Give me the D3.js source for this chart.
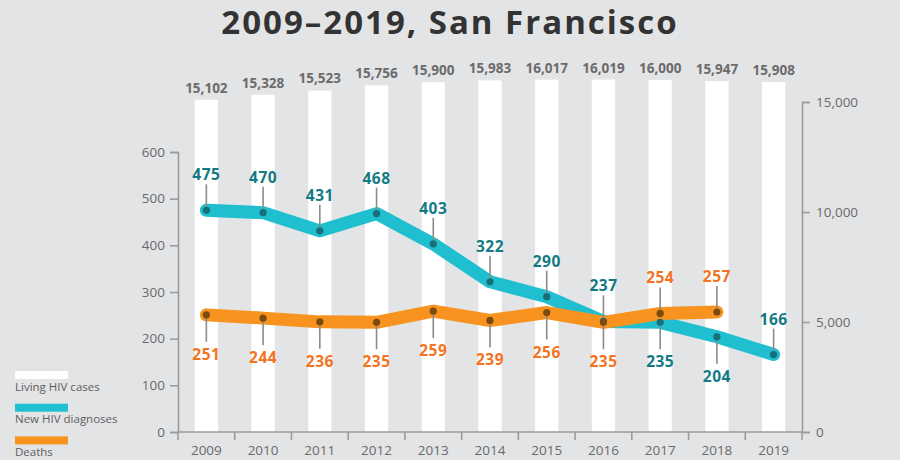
<!DOCTYPE html>
<html>
<head>
<meta charset="utf-8">
<script src="https://cdn.jsdelivr.net/npm/d3@7"></script>
<style>
  html, body { margin: 0; padding: 0; background: #e3e4e6; }
  svg { display: block; font-family: "Open Sans", "DejaVu Sans", sans-serif; }
</style>
</head>
<body>
<svg id="chart" width="900" height="460"></svg>
<script>
const years = ["2009","2010","2011","2012","2013","2014","2015","2016","2017","2018","2019"];
const livingCases = [15102, 15328, 15523, 15756, 15900, 15983, 16017, 16019, 16000, 15947, 15908];
const newDiagnoses = [475, 470, 431, 468, 403, 322, 290, 237, 235, 204, 166];
const deaths = [251, 244, 236, 235, 259, 239, 256, 235, 254, 257];
const leftTicks = [0, 100, 200, 300, 400, 500, 600];
const rightTicks = [0, 5000, 10000, 15000];
const legendLabels = ["Living HIV cases", "New HIV diagnoses", "Deaths"];
const titleText = "2009\u20132019, San Francisco";

const C = {
  bg: "#e3e4e6", bar: "#ffffff", teal: "#1fbfcf", orange: "#f7931e",
  tealText: "#137a84", orangeText: "#f47321", tealDot: "#16707a", orangeDot: "#7c4a0c",
  axis: "#9b9b9b", axisText: "#6a6a6a", leader: "#8c8c8c", title: "#333333", barText: "#6b6b6b"
};

const svg = d3.select("#chart");
svg.append("rect").attr("width", 900).attr("height", 460).attr("fill", C.bg);

const x = d3.scaleBand().domain(years).range([178, 802]).paddingInner(0.59).paddingOuter(0.295);
const xBand = d3.scaleBand().domain(years).range([178, 802]);
const yL = d3.scaleLinear().domain([0, 600]).range([432, 152]);
const yR = d3.scaleLinear().domain([0, 15000]).range([432, 102]);

// title
svg.append("text").attr("x", 450).attr("y", 34).attr("text-anchor", "middle")
  .attr("font-size", 33).attr("font-weight", 700).attr("fill", C.title)
  .attr("letter-spacing", 2)
  .text(titleText);

// bars
svg.append("g").selectAll("rect").data(years).join("rect")
  .attr("x", d => x(d)).attr("width", x.bandwidth())
  .attr("y", (d, i) => yR(livingCases[i]))
  .attr("height", (d, i) => yR(0) - yR(livingCases[i]))
  .attr("fill", C.bar);

svg.append("g").selectAll("text").data(years).join("text")
  .attr("x", d => x(d) + x.bandwidth() / 2)
  .attr("y", (d, i) => yR(livingCases[i]) - 7)
  .attr("text-anchor", "middle").attr("font-size", 13.5).attr("font-weight", 700)
  .attr("fill", C.barText)
  .text((d, i) => d3.format(",")(livingCases[i]));

// axes
const axisStyle = g => {
  g.selectAll("path, line").attr("stroke", C.axis).attr("stroke-width", 1.6);
  g.selectAll("text").attr("fill", C.axisText).attr("font-size", 13.5)
    .attr("font-family", "'Open Sans', sans-serif");
};
svg.append("g").attr("transform", "translate(178,0)")
  .call(d3.axisLeft(yL).tickValues(leftTicks).tickSizeOuter(0).tickSize(8).tickPadding(5))
  .call(axisStyle);
svg.append("g").attr("transform", "translate(802,0)")
  .call(d3.axisRight(yR).tickValues(rightTicks).tickFormat(d3.format(",")).tickSizeOuter(0).tickSize(8).tickPadding(6))
  .call(axisStyle);

const xg = svg.append("g").attr("transform", "translate(0,432)");
xg.append("line").attr("x1", 178).attr("x2", 802).attr("stroke", C.axis).attr("stroke-width", 1.6);
xg.selectAll(".tk").data(years.concat(["end"])).join("line")
  .attr("x1", (d, i) => 178 + i * xBand.bandwidth()).attr("x2", (d, i) => 178 + i * xBand.bandwidth())
  .attr("y1", 0).attr("y2", 8).attr("stroke", C.axis).attr("stroke-width", 1.6);
xg.selectAll("text").data(years).join("text")
  .attr("x", d => xBand(d) + xBand.bandwidth() / 2).attr("y", 23)
  .attr("text-anchor", "middle").attr("font-size", 13.5).attr("fill", C.axisText)
  .text(d => d);

// lines
const cx = d => xBand(d) + xBand.bandwidth() / 2;
const lineGen = vals => d3.line().x((d, i) => cx(years[i])).y(d => yL(d))(vals);

svg.append("path").attr("d", lineGen(newDiagnoses)).attr("fill", "none")
  .attr("stroke", C.teal).attr("stroke-width", 13).attr("stroke-linecap", "round").attr("stroke-linejoin", "round");
svg.append("path").attr("d", lineGen(deaths)).attr("fill", "none")
  .attr("stroke", C.orange).attr("stroke-width", 13).attr("stroke-linecap", "round").attr("stroke-linejoin", "round");

// labels with leaders
function labelSeries(vals, other, textColor, dotColor) {
  const g = svg.append("g");
  vals.forEach((v, i) => {
    const o = other[i];
    const above = (o === undefined) || v > o;
    const px = cx(years[i]), py = yL(v);
    const ly2 = above ? py - 26 : py + 27;
    g.append("line").attr("x1", px).attr("x2", px).attr("y1", py).attr("y2", ly2)
      .attr("stroke", C.leader).attr("stroke-width", 1.6);
    g.append("circle").attr("cx", px).attr("cy", py).attr("r", 3.6).attr("fill", dotColor);
    g.append("text").attr("x", px).attr("y", above ? py - 30 : py + 45)
      .attr("text-anchor", "middle").attr("font-size", 15.5).attr("font-weight", 700)
      .attr("letter-spacing", 0.5)
      .attr("fill", textColor).text(v);
  });
}
labelSeries(newDiagnoses, deaths, C.tealText, C.tealDot);
labelSeries(deaths, newDiagnoses, C.orangeText, C.orangeDot);

// legend
const legendColors = [C.bar, C.teal, C.orange];
const lg = svg.append("g");
legendLabels.forEach((t, i) => {
  const y0 = 371 + i * 32.7;
  lg.append("rect").attr("x", 15).attr("y", y0).attr("width", 53).attr("height", 8).attr("fill", legendColors[i]);
  lg.append("text").attr("x", 15).attr("y", y0 + 19.5).attr("font-size", 11.5).attr("fill", "#5e5e5e").text(t);
});
</script>
</body>
</html>
